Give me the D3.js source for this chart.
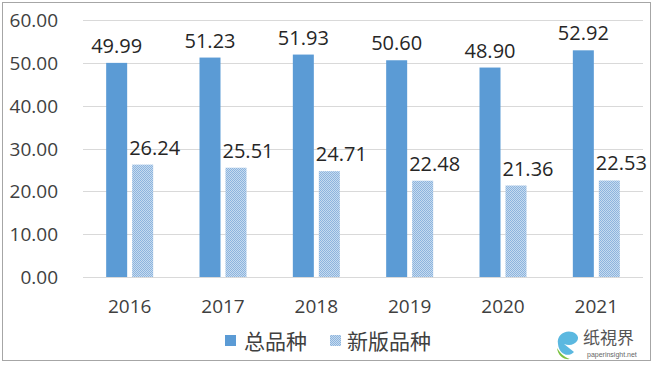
<!DOCTYPE html>
<html>
<head>
<meta charset="utf-8">
<script src="https://cdn.jsdelivr.net/npm/d3@7"></script>
<style>
  body { margin: 0; background: #fff; }
  svg { display: block; font-family: "Open Sans", "Noto Sans", sans-serif; }
</style>
</head>
<body>
<svg></svg>
<script>
const years = ["2016", "2017", "2018", "2019", "2020", "2021"]
const total = [49.99, 51.23, 51.93, 50.60, 48.90, 52.92]
const newVersion = [26.24, 25.51, 24.71, 22.48, 21.36, 22.53]
const yTicks = [0, 10, 20, 30, 40, 50, 60]
const seriesNames = ["总品种", "新版品种"]

const svgWidth = 654
const svgHeight = 365
const margins = { top: 20, left: 83, right: 11, bottom: 88 }
const plotWidth = svgWidth - margins.left - margins.right
const plotHeight = svgHeight - margins.top - margins.bottom

const darkBlue = "#5b9bd5"

const svg = d3.select("svg")
    .attr("width", svgWidth)
    .attr("height", svgHeight)

// dotted fill for the second series
const defs = svg.append("defs")
const pat = defs.append("pattern")
    .attr("id", "dots")
    .attr("width", 2)
    .attr("height", 2)
    .attr("patternUnits", "userSpaceOnUse")
pat.append("rect").attr("width", 2).attr("height", 2).attr("fill", "#c6dbef")
pat.append("rect").attr("width", 1).attr("height", 1).attr("fill", "#8db4de")
pat.append("rect").attr("x", 1).attr("y", 1).attr("width", 1).attr("height", 1).attr("fill", "#8db4de")

// outer frame
svg.append("rect")
    .attr("x", 2.5).attr("y", 2.5)
    .attr("width", 648).attr("height", 358)
    .attr("fill", "none")
    .attr("stroke", "#a6a6a6")

const xScale = d3.scaleBand()
    .domain(years)
    .range([margins.left, margins.left + plotWidth])
const yScale = d3.scaleLinear()
    .domain([0, 60])
    .range([margins.top + plotHeight, margins.top])

// gridlines
svg.append("g")
    .selectAll("line")
    .data(yTicks)
    .join("line")
    .attr("x1", margins.left)
    .attr("x2", margins.left + plotWidth)
    .attr("y1", d => Math.round(yScale(d)) + 0.5)
    .attr("y2", d => Math.round(yScale(d)) + 0.5)
    .attr("stroke", "#d9d9d9")

// y tick labels
svg.append("g")
    .selectAll("text")
    .data(yTicks)
    .join("text")
    .attr("x", 58)
    .attr("y", d => yScale(d) + 7)
    .attr("text-anchor", "end")
    .attr("font-size", 19)
    .attr("fill", "#404040")
    .text(d => d.toFixed(2))

// x labels
svg.append("g")
    .selectAll("text")
    .data(years)
    .join("text")
    .attr("x", d => xScale(d) + xScale.bandwidth() / 2)
    .attr("y", 313)
    .attr("text-anchor", "middle")
    .attr("font-size", 19)
    .attr("fill", "#404040")
    .text(d => d)

const barW = 21
const gap = 5

const sub = xScale.bandwidth() / 2
const series = [
    { name: seriesNames[0], values: total, fill: darkBlue, off: -barW - gap / 2, labelDx: 0 },
    { name: seriesNames[1], values: newVersion, fill: "url(#dots)", off: gap / 2, labelDx: 12 }
]

series.forEach((s) => {
    const g = svg.append("g")
    g.selectAll("rect")
        .data(s.values)
        .join("rect")
        .attr("x", (d, i) => xScale(years[i]) + sub + s.off)
        .attr("y", d => yScale(d))
        .attr("width", barW)
        .attr("height", d => yScale(0) - yScale(d))
        .attr("fill", s.fill)
    g.selectAll("text")
        .data(s.values)
        .join("text")
        .attr("x", (d, i) => xScale(years[i]) + sub + s.off + barW / 2 + s.labelDx)
        .attr("y", d => yScale(d) - 10)
        .attr("text-anchor", "middle")
        .attr("font-size", 20)
        .attr("fill", "#262626")
        .text(d => d.toFixed(2))
})

// legend
const legend = svg.append("g")
const legendItems = [
    { name: seriesNames[0], fill: darkBlue, x: 225, tx: 244 },
    { name: seriesNames[1], fill: "url(#dots)", x: 330, tx: 347 }
]
legendItems.forEach((d) => {
    legend.append("rect")
        .attr("x", d.x).attr("y", 335)
        .attr("width", 11).attr("height", 11)
        .attr("fill", d.fill)
    legend.append("text")
        .attr("x", d.tx).attr("y", 349)
        .attr("font-size", 21)
        .attr("font-family", "'Noto Sans CJK SC', sans-serif")
        .attr("fill", "#404040")
        .text(d.name)
})

// watermark
const wm = svg.append("g").attr("transform", "translate(556,330)")
wm.append("path")
    .attr("d", "M2,14 C0,4 12,-2 20,4 C26,9 18,18 8,14 L18,22 C12,28 3,24 2,14 Z")
    .attr("fill", "#5bb8e0")
wm.append("path")
    .attr("d", "M1,18 C2,26 8,30 14,29 C8,27 4,23 1,18 Z")
    .attr("fill", "#7cc242")
wm.append("text")
    .attr("x", 27).attr("y", 14)
    .attr("font-size", 17)
    .attr("font-family", "'Noto Sans CJK SC', sans-serif")
    .attr("fill", "#555")
    .text("纸視界")
wm.append("text")
    .attr("x", 31).attr("y", 27)
    .attr("font-size", 7)
    .attr("font-family", "'Liberation Sans', sans-serif")
    .attr("fill", "#666")
    .text("paperinsight.net")
</script>
</body>
</html>
